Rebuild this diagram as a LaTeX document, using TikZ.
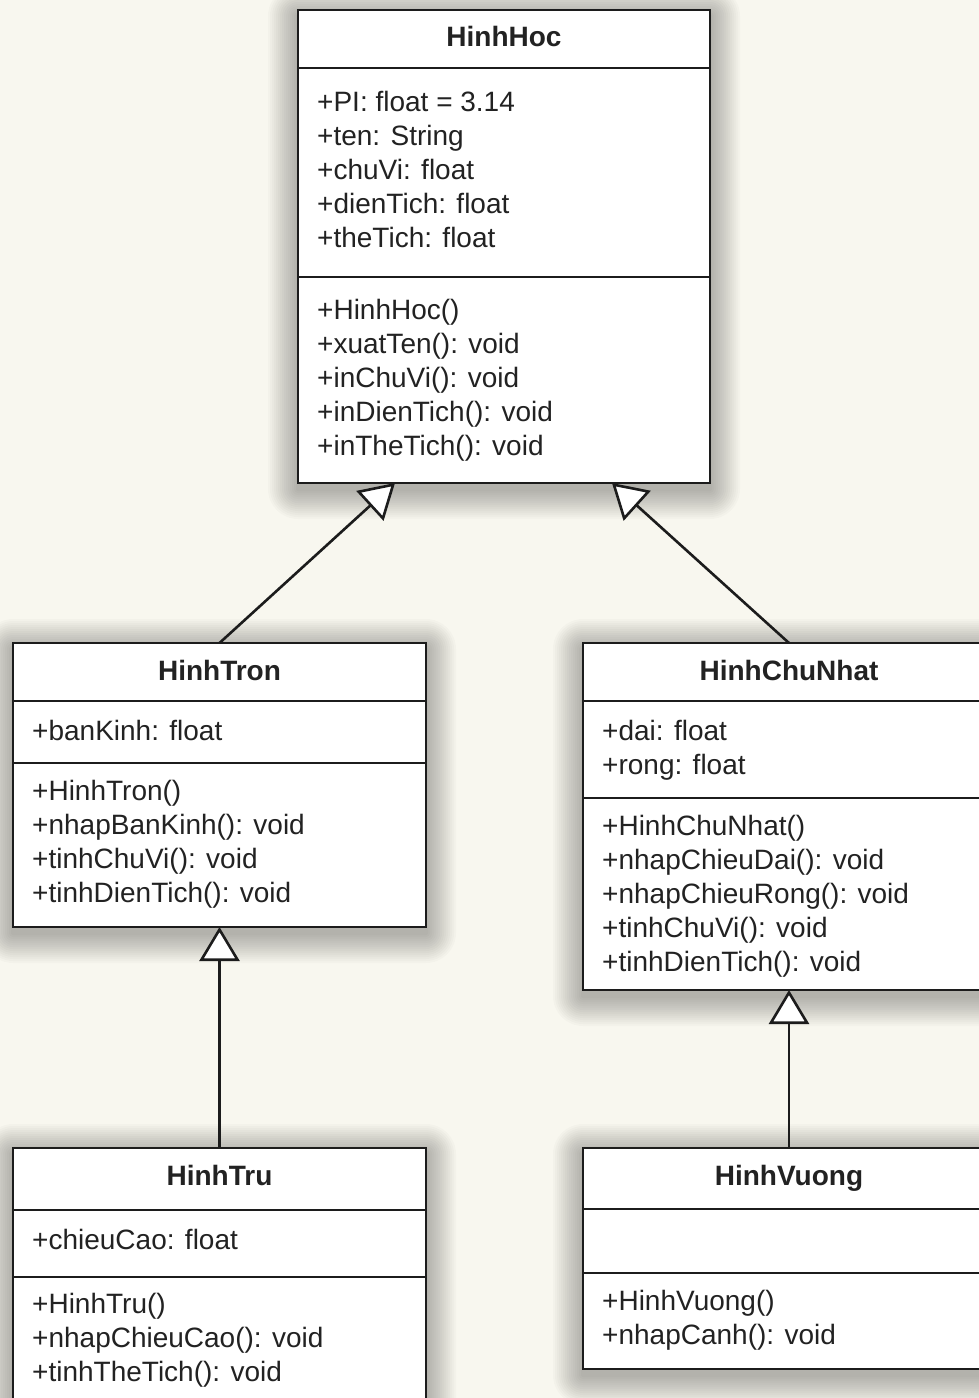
\documentclass[tikz,border=0pt]{standalone}
\usepackage{fontspec}
\setmainfont{Liberation Sans}
\usetikzlibrary{arrows.meta}
\pgfdeclarelayer{background}
\pgfsetlayers{background,main}

\definecolor{paper}{RGB}{248,247,239}
\definecolor{ink}{RGB}{28,28,28}
\definecolor{textink}{RGB}{34,34,34}

\tikzset{
  umlbox/.style={rectangle, draw=ink, line width=2.6pt, fill=white,
    inner sep=0pt, outer sep=0pt, anchor=north west},
  divider/.style={draw=ink, line width=2.6pt},
  umltitle/.style={anchor=base, inner sep=0pt, text=textink,
    font=\fontsize{28}{34}\selectfont\bfseries},
  member/.style={anchor=base west, inner sep=0pt, text=textink,
    font=\fontsize{28}{34}\selectfont},
  generalization/.style={draw=ink, line width=2.6pt,
    -{Triangle[length=34pt, width=40pt, fill=white]}},
}

% soft shadow under a class box
\newcommand\castshadow[1]{%
  \foreach \s in {2,4,...,30}{%
    \fill[black, opacity=0.018, rounded corners=\s pt]
      ([shift={(-\s,-\s+6)}]#1.north west) rectangle ([shift={(\s,\s+6)}]#1.south east);
  }}

% compartment separator at a given offset below the box top
\newcommand\compartment[2]{%
  \draw[divider] ([shift={(0,#2)}]#1.north west) -- ([shift={(0,#2)}]#1.north east);}

% list of members, one per line, first baseline at #3 below the box top
\newcommand\memberlist[4]{%
  \foreach \t [count=\k from 0] in {#4}
    \node[member] (#2\k) at ([shift={(19,#3+34*\k)}]#1.north west) {\t};}

\begin{document}
\begin{tikzpicture}[x=1pt, y=-1pt]
  \useasboundingbox (0,0) rectangle (979,1398);
  \clip (0,0) rectangle (979,1398);

  % class boxes
  \node[umlbox, minimum width=412pt, minimum height=473pt] (HinhHoc)     at (298,10)   {};
  \node[umlbox, minimum width=413pt, minimum height=284pt] (HinhTron)    at (13,643)   {};
  \node[umlbox, minimum width=412pt, minimum height=347pt] (HinhChuNhat) at (583,643)  {};
  \node[umlbox, minimum width=413pt, minimum height=280pt] (HinhTru)     at (13,1148)  {};
  \node[umlbox, minimum width=412pt, minimum height=221pt] (HinhVuong)   at (583,1148) {};

  \begin{pgfonlayer}{background}
    \fill[paper] (0,0) rectangle (979,1398);
    \castshadow{HinhHoc}
    \castshadow{HinhTron}
    \castshadow{HinhChuNhat}
    \castshadow{HinhTru}
    \castshadow{HinhVuong}
  \end{pgfonlayer}

  % HinhHoc
  \node[umltitle] (HinhHoc-name) at ([shift={(0,36)}]HinhHoc.north) {HinhHoc};
  \compartment{HinhHoc}{58}
  \compartment{HinhHoc}{267}
  \memberlist{HinhHoc}{hh-a}{101}{{+PI: float = 3.14},{+ten: String},{+chuVi: float},{+dienTich: float},{+theTich: float}}
  \memberlist{HinhHoc}{hh-m}{309}{{+HinhHoc()},{+xuatTen(): void},{+inChuVi(): void},{+inDienTich(): void},{+inTheTich(): void}}

  % HinhTron
  \node[umltitle] (HinhTron-name) at ([shift={(0,37)}]HinhTron.north) {HinhTron};
  \compartment{HinhTron}{58}
  \compartment{HinhTron}{120}
  \memberlist{HinhTron}{ht-a}{97}{{+banKinh: float}}
  \memberlist{HinhTron}{ht-m}{157}{{+HinhTron()},{+nhapBanKinh(): void},{+tinhChuVi(): void},{+tinhDienTich(): void}}

  % HinhChuNhat
  \node[umltitle] (HinhChuNhat-name) at ([shift={(0,37)}]HinhChuNhat.north) {HinhChuNhat};
  \compartment{HinhChuNhat}{58}
  \compartment{HinhChuNhat}{155}
  \memberlist{HinhChuNhat}{hcn-a}{97}{{+dai: float},{+rong: float}}
  \memberlist{HinhChuNhat}{hcn-m}{192}{{+HinhChuNhat()},{+nhapChieuDai(): void},{+nhapChieuRong(): void},{+tinhChuVi(): void},{+tinhDienTich(): void}}

  % HinhTru
  \node[umltitle] (HinhTru-name) at ([shift={(0,37)}]HinhTru.north) {HinhTru};
  \compartment{HinhTru}{62}
  \compartment{HinhTru}{129}
  \memberlist{HinhTru}{htr-a}{101}{{+chieuCao: float}}
  \memberlist{HinhTru}{htr-m}{165}{{+HinhTru()},{+nhapChieuCao(): void},{+tinhTheTich(): void}}

  % HinhVuong
  \node[umltitle] (HinhVuong-name) at ([shift={(0,37)}]HinhVuong.north) {HinhVuong};
  \compartment{HinhVuong}{61}
  \compartment{HinhVuong}{125}
  \memberlist{HinhVuong}{hv-m}{162}{{+HinhVuong()},{+nhapCanh(): void}}

  % inheritance
  \draw[generalization] (HinhTron.north)    -- ([shift={(-109,0)}]HinhHoc.south);
  \draw[generalization] (HinhChuNhat.north) -- ([shift={(108,0)}]HinhHoc.south);
  \draw[generalization] (HinhTru.north)     -- (HinhTron.south);
  \draw[generalization] (HinhVuong.north)   -- (HinhChuNhat.south);
\end{tikzpicture}
\end{document}
